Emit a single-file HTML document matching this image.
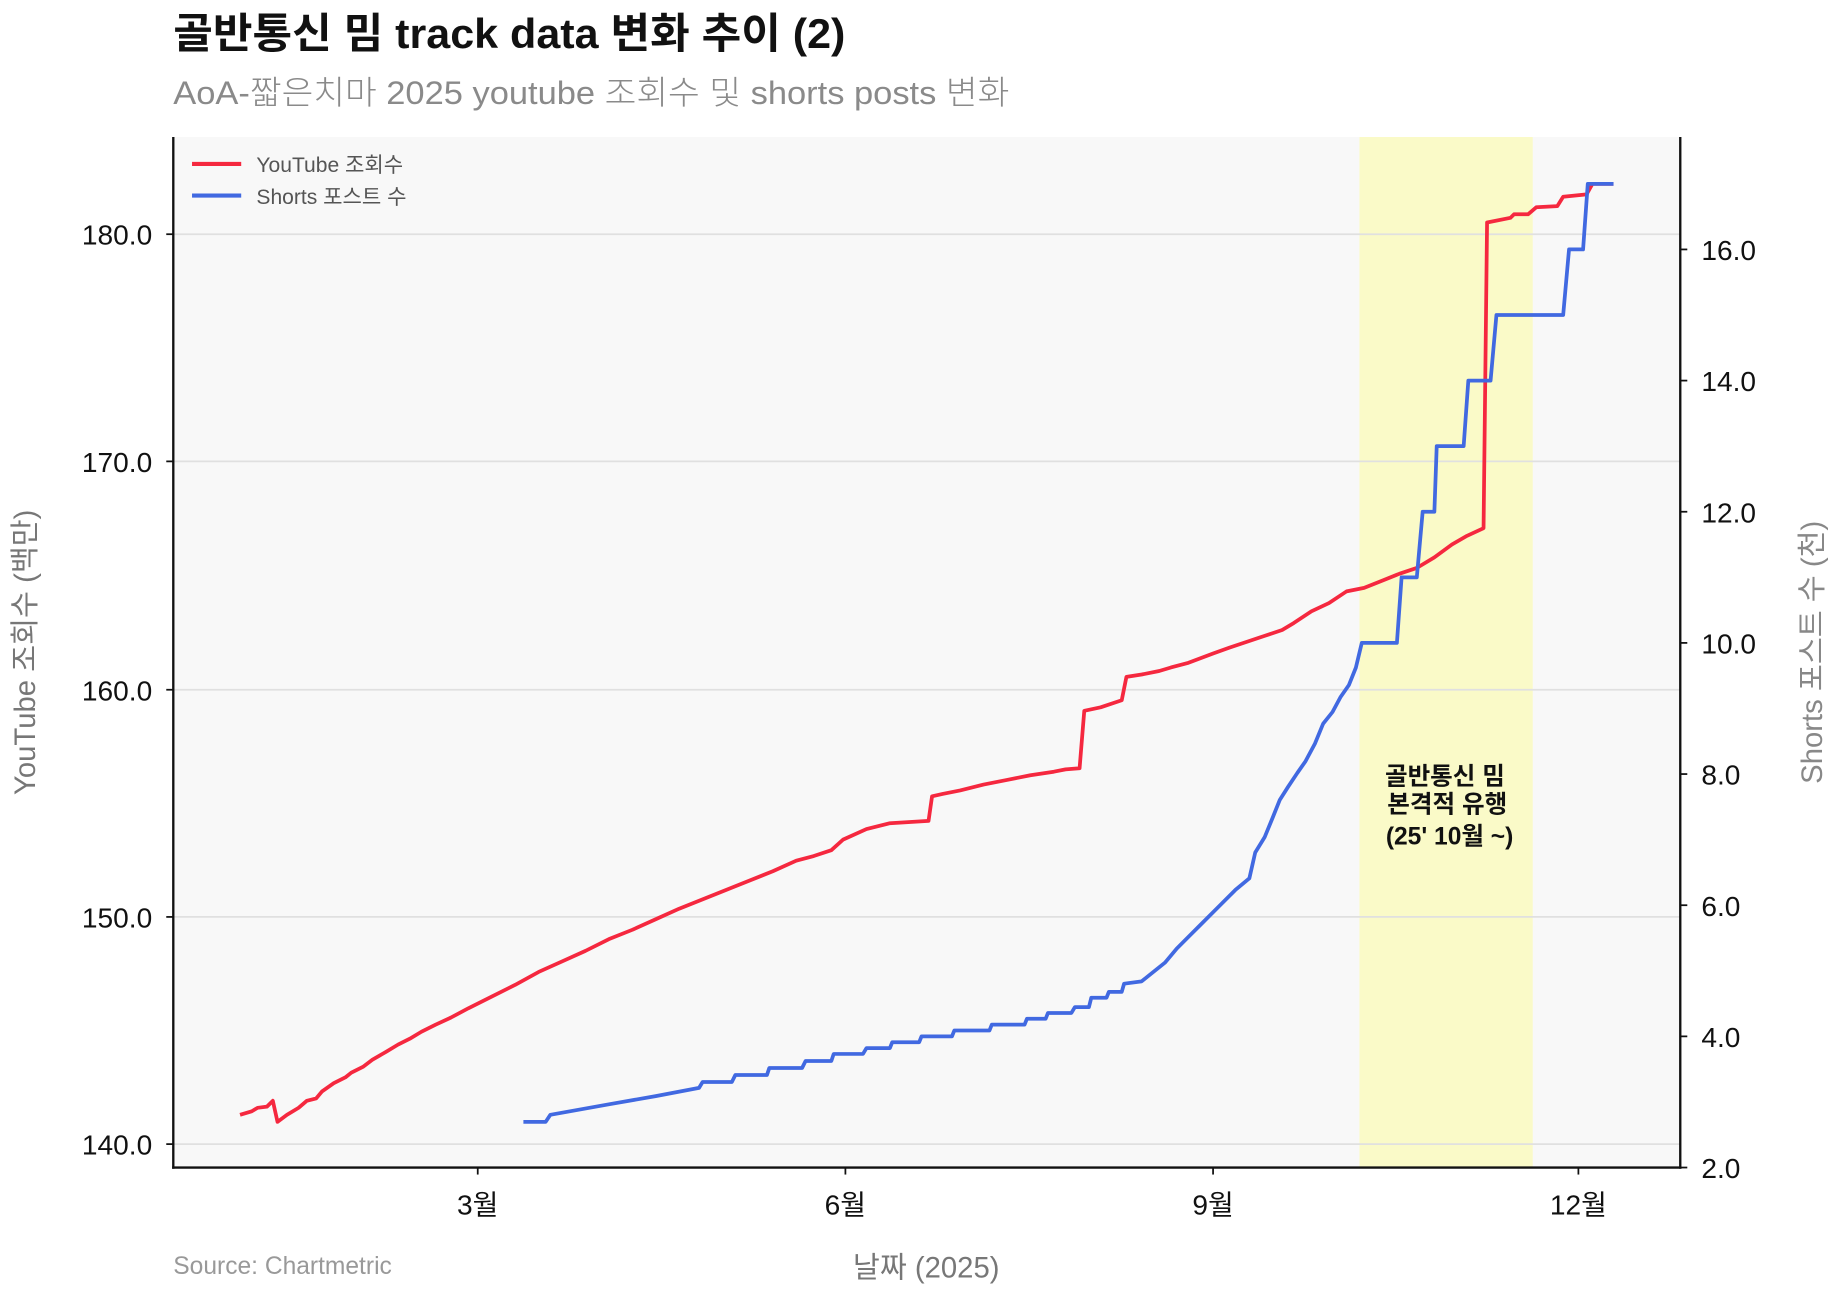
<!DOCTYPE html>
<html><head><meta charset="utf-8"><style>
html,body{margin:0;padding:0;background:#fff}
svg{display:block}
text{font-family:"Liberation Sans","Noto Sans CJK KR",sans-serif}
</style></head><body>
<svg width="1836" height="1294" viewBox="0 0 1568 1105" preserveAspectRatio="none">
<rect width="1568" height="1105" fill="#fff"/>
<text x="148" y="41" font-size="36" font-weight="bold" fill="#111" textLength="574" lengthAdjust="spacingAndGlyphs">골반통신 밈 track data 변화 추이 (2)</text>
<text x="148" y="89" font-size="28" fill="#8a8a8a" font-weight="300" textLength="714" lengthAdjust="spacingAndGlyphs">AoA-짧은치마 2025 youtube 조회수 및 shorts posts 변화</text>
<rect x="148" y="117" width="1287" height="880" fill="#f8f8f8"/>
<rect x="1161" y="117" width="148" height="880" fill="#fafac8"/>
<g stroke="#e0e0e0" stroke-width="1.5">
<line x1="148" x2="1435" y1="977" y2="977"/><line x1="148" x2="1435" y1="783" y2="783"/>
<line x1="148" x2="1435" y1="589" y2="589"/><line x1="148" x2="1435" y1="394" y2="394"/>
<line x1="148" x2="1435" y1="200" y2="200"/></g>
<polyline fill="none" stroke="#f5283f" stroke-width="3.2" stroke-linejoin="round" points="205,952 215,949 220,946 228,945 231,942 233,940 237,958 245,952 255,946 262,940 270,938 275,932 285,925 295,920 300,916 310,911 318,905 330,898 340,892 350,887 360,881 372,875 385,869 400,861 420,851 440,841 460,830 480,821 500,812 520,802 540,794 560,785 580,776 600,768 620,760 640,752 660,744 680,735 695,731 710,726 720,717 740,708 760,703 793,701 796,680 805,678 820,675 840,670 860,666 880,662 900,659 910,657 922,656 926,607 940,604 958,598 962,578 975,576 990,573 1000,570 1015,566 1036,558 1050,553 1065,548 1080,543 1095,538 1105,532 1120,522 1135,515 1150,505 1165,502 1180,496 1195,490 1210,485 1225,476 1240,465 1252,458 1267,451 1270,190 1290,186 1293,183 1305,183 1312,177 1330,176 1335,168 1355,166 1360,157 1378,157"/>
<polyline fill="none" stroke="#4169e1" stroke-width="3.2" stroke-linejoin="round" points="447,958 466,958 470,952 520,943 560,936 597,929 600,924 625,924 628,918 655,918 657,912 685,912 688,906 710,906 712,900 737,900 740,895 760,895 762,890 785,890 787,885 813,885 815,880 845,880 847,875 875,875 877,870 893,870 895,865 915,865 918,860 930,860 932,852 945,852 947,847 958,847 960,840 975,838 985,830 995,822 1005,810 1015,800 1025,790 1040,775 1055,760 1067,750 1072,728 1080,715 1087,698 1093,683 1100,672 1108,660 1115,650 1123,635 1130,618 1138,608 1145,595 1152,585 1158,570 1163,549 1193,549 1197,493 1210,493 1215,437 1225,437 1227,381 1250,381 1254,325 1273,325 1278,269 1335,269 1340,213 1352,213 1356,157 1378,157"/>
<g stroke="#111" stroke-width="2" fill="none">
<line x1="148" y1="117" x2="148" y2="998"/><line x1="147" y1="997" x2="1436" y2="997"/><line x1="1435" y1="117" x2="1435" y2="998"/>
</g>
<g stroke="#111" stroke-width="1.5">
<line x1="142" x2="148" y1="977" y2="977"/><line x1="142" x2="148" y1="783" y2="783"/><line x1="142" x2="148" y1="589" y2="589"/><line x1="142" x2="148" y1="394" y2="394"/><line x1="142" x2="148" y1="200" y2="200"/>
<line x1="1435" x2="1441" y1="997" y2="997"/><line x1="1435" x2="1441" y1="885" y2="885"/><line x1="1435" x2="1441" y1="773" y2="773"/><line x1="1435" x2="1441" y1="661" y2="661"/><line x1="1435" x2="1441" y1="549" y2="549"/><line x1="1435" x2="1441" y1="437" y2="437"/><line x1="1435" x2="1441" y1="325" y2="325"/><line x1="1435" x2="1441" y1="213" y2="213"/>
<line x1="408" x2="408" y1="997" y2="1003"/><line x1="722" x2="722" y1="997" y2="1003"/><line x1="1036" x2="1036" y1="997" y2="1003"/><line x1="1348" x2="1348" y1="997" y2="1003"/>
</g>
<g font-size="24" fill="#111" text-anchor="end">
<text x="130" y="986">140.0</text><text x="130" y="792">150.0</text><text x="130" y="598">160.0</text><text x="130" y="403">170.0</text><text x="130" y="209">180.0</text></g>
<g font-size="24" fill="#111">
<text x="1453" y="1006">2.0</text><text x="1453" y="894">4.0</text><text x="1453" y="782">6.0</text><text x="1453" y="670">8.0</text><text x="1453" y="558">10.0</text><text x="1453" y="446">12.0</text><text x="1453" y="334">14.0</text><text x="1453" y="222">16.0</text></g>
<g font-size="24" fill="#111" text-anchor="middle">
<text x="408" y="1037">3월</text><text x="722" y="1037">6월</text><text x="1036" y="1037">9월</text><text x="1348" y="1037">12월</text></g>
<text x="791" y="1091" font-size="25" fill="#777" text-anchor="middle">날짜 (2025)</text>
<text x="148" y="1088" font-size="21" fill="#999" font-weight="300">Source: Chartmetric</text>
<text transform="translate(30,557) rotate(-90)" font-size="25" fill="#777" text-anchor="middle">YouTube 조회수 (백만)</text>
<text transform="translate(1556,557) rotate(-90)" font-size="25" fill="#888" text-anchor="middle">Shorts 포스트 수 (천)</text>
<g font-size="21" font-weight="bold" fill="#111" text-anchor="middle">
<text x="1234" y="670">골반통신 밈</text><text x="1236" y="694">본격적 유행</text><text x="1238" y="721">(25' 10월 ~)</text></g>
<line x1="164" x2="206" y1="140" y2="140" stroke="#f5283f" stroke-width="3.5"/>
<line x1="164" x2="206" y1="167" y2="167" stroke="#4169e1" stroke-width="3.5"/>
<text x="219" y="147" font-size="18" fill="#555">YouTube 조회수</text>
<text x="219" y="174" font-size="18" fill="#555">Shorts 포스트 수</text>
</svg>
</body></html>
